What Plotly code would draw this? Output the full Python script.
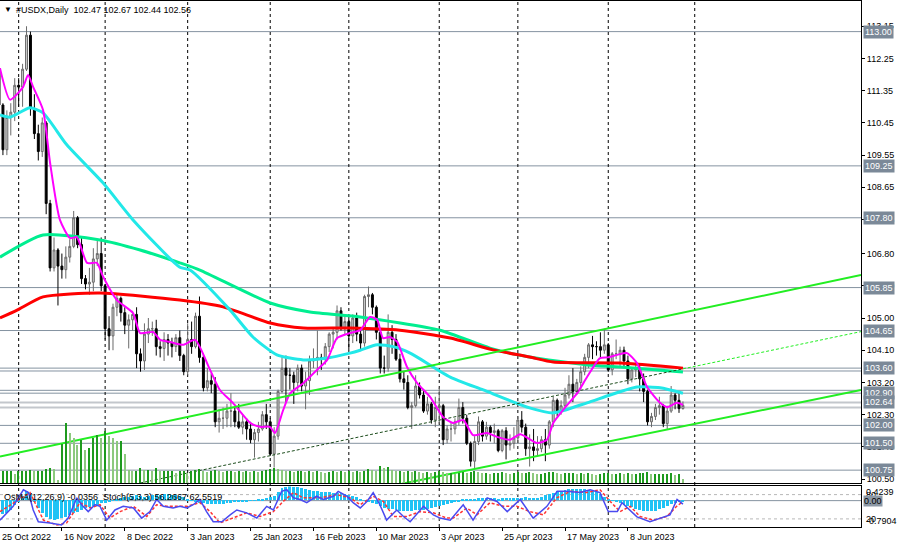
import plotly.graph_objects as go

# daily bars, index 0 = 25 Oct 2022 ... index 174 = 28 Jun 2023
opens = [
    111.98, 110.95, 109.70, 110.60, 110.75, 111.50, 111.45, 111.95, 112.90, 110.85,
    110.15, 109.65, 110.45, 108.20, 106.40, 106.90, 106.45, 106.35, 106.70, 107.00,
    107.80, 107.05, 106.10, 105.95, 106.00, 106.65, 106.80, 105.90, 104.70, 104.50,
    105.30, 105.55, 105.15, 104.80, 104.95, 105.10, 104.00, 103.80, 104.55, 104.70,
    104.70, 104.20, 104.15, 104.40, 104.30, 104.20, 104.45, 103.95, 103.50, 104.40,
    104.20, 105.05, 103.90, 103.05, 103.25, 103.15, 102.10, 102.20, 102.20, 102.40,
    102.40, 102.10, 101.95, 102.10, 101.90, 101.60, 101.80, 101.90, 102.30, 102.10,
    101.20, 101.70, 102.95, 103.60, 103.40, 103.40, 103.20, 103.60, 103.10, 103.25,
    103.80, 103.85, 103.90, 103.85, 104.20, 104.55, 104.60, 105.20, 104.70, 104.90,
    104.50, 105.00, 104.55, 104.30, 105.60, 105.65, 105.30, 104.60, 103.60, 103.60,
    104.60, 104.40, 103.85, 103.30, 103.20, 102.50, 102.55, 103.10, 102.85, 102.40,
    102.60, 102.15, 102.50, 102.55, 101.60, 101.90, 101.90, 102.10, 102.50, 102.20,
    101.50, 101.00, 101.55, 102.10, 101.70, 101.95, 101.80, 101.85, 101.30, 101.85,
    101.45, 101.50, 101.65, 102.15, 101.95, 101.35, 101.40, 101.30, 101.35, 101.60,
    101.45, 102.10, 102.70, 102.40, 102.55, 102.85, 103.15, 102.95, 103.20, 103.50,
    103.90, 104.25, 104.20, 104.20, 104.10, 104.25, 103.55, 104.00, 104.00, 104.10,
    103.80, 103.30, 103.55, 103.60, 103.30, 102.95, 102.10, 102.25, 102.50, 102.55,
    102.05, 102.40, 102.85, 102.70, 102.47,
]
highs = [
    112.10, 111.00, 110.80, 111.00, 111.70, 111.70, 112.10, 113.15, 113.00, 111.25,
    110.40, 110.60, 110.50, 108.30, 107.25, 106.95, 106.80, 107.00, 107.20, 107.99,
    107.85, 107.25, 106.20, 106.40, 106.95, 107.15, 107.25, 105.95, 105.05, 105.40,
    105.65, 105.60, 105.30, 105.10, 105.20, 105.30, 104.15, 104.85, 105.00, 104.90,
    104.95, 104.35, 104.60, 104.55, 104.45, 104.55, 104.65, 104.00, 104.85, 104.90,
    105.15, 105.60, 104.00, 103.60, 103.45, 103.35, 102.45, 102.50, 102.60, 102.90,
    102.50, 102.60, 102.30, 102.20, 102.10, 101.90, 102.10, 102.40, 102.60, 102.20,
    101.95, 103.00, 103.95, 103.95, 103.60, 103.50, 103.70, 103.70, 103.50, 103.95,
    104.15, 104.65, 104.00, 104.30, 104.60, 104.75, 105.35, 105.30, 105.05, 105.05,
    105.10, 105.15, 104.70, 105.65, 105.88, 105.70, 105.35, 104.70, 103.95, 105.10,
    104.80, 104.55, 104.00, 103.50, 103.40, 102.65, 103.40, 103.20, 103.00, 102.80,
    102.65, 102.80, 103.05, 102.60, 102.00, 102.10, 102.20, 102.75, 102.65, 102.30,
    101.55, 101.70, 102.25, 102.15, 102.10, 102.00, 102.05, 101.90, 101.90, 101.95,
    101.75, 101.95, 102.25, 102.40, 102.05, 101.75, 101.90, 101.70, 101.70, 101.90,
    102.15, 102.80, 102.75, 102.70, 103.05, 103.40, 103.60, 103.30, 103.65, 104.00,
    104.30, 104.50, 104.35, 104.60, 104.70, 104.30, 104.05, 104.40, 104.20, 104.20,
    103.95, 103.60, 103.80, 103.70, 103.45, 103.00, 102.35, 102.60, 102.80, 102.60,
    102.55, 103.10, 102.90, 102.95, 102.67,
]
lows = [
    110.80, 109.55, 109.55, 110.10, 110.50, 110.90, 110.90, 111.90, 110.65, 110.00,
    109.40, 109.50, 107.90, 106.30, 106.30, 105.35, 106.10, 106.10, 106.55, 106.95,
    106.95, 105.95, 105.80, 105.65, 105.75, 106.45, 105.75, 104.40, 104.10, 104.10,
    105.05, 104.90, 104.55, 104.15, 104.65, 103.60, 103.50, 103.55, 104.30, 104.50,
    103.95, 103.90, 103.80, 103.95, 103.90, 104.05, 103.80, 103.40, 103.40, 104.00,
    104.15, 103.75, 102.95, 102.95, 102.90, 101.95, 101.80, 101.90, 101.95, 101.95,
    101.95, 101.90, 101.75, 101.60, 101.50, 101.10, 101.55, 101.85, 101.90, 101.15,
    100.82, 101.60, 102.90, 102.65, 103.00, 102.60, 102.95, 102.95, 102.45, 102.85,
    103.60, 103.40, 103.55, 103.70, 104.05, 104.15, 104.40, 104.65, 104.55, 104.10,
    104.30, 104.35, 104.10, 104.20, 105.30, 105.10, 104.40, 103.45, 103.45, 103.50,
    104.00, 103.80, 103.20, 103.00, 102.45, 101.90, 102.50, 102.75, 102.35, 102.30,
    102.05, 101.95, 102.05, 101.45, 101.50, 101.55, 101.75, 102.00, 102.05, 101.45,
    100.85, 100.79, 101.45, 101.55, 101.60, 101.55, 101.50, 101.25, 101.25, 101.05,
    101.30, 101.35, 101.50, 101.80, 101.15, 100.85, 101.00, 101.15, 101.25, 101.00,
    101.35, 101.95, 102.25, 102.30, 102.40, 102.75, 102.65, 102.85, 103.00, 103.40,
    103.60, 103.85, 103.95, 103.90, 104.00, 103.50, 103.40, 103.85, 103.65, 103.60,
    103.15, 103.20, 103.35, 102.95, 102.65, 102.00, 101.95, 102.15, 102.30, 101.95,
    101.90, 102.35, 102.45, 102.35, 102.44,
]
closes = [
    110.95, 109.70, 110.60, 110.75, 111.50, 111.45, 111.95, 112.90, 110.85, 110.15,
    109.65, 110.45, 108.20, 106.40, 106.90, 106.45, 106.35, 106.70, 107.00, 107.80,
    107.05, 106.10, 105.95, 106.00, 106.65, 106.80, 105.90, 104.70, 104.50, 105.30,
    105.55, 105.15, 104.80, 104.95, 105.10, 104.00, 103.80, 104.55, 104.70, 104.70,
    104.20, 104.15, 104.40, 104.30, 104.20, 104.45, 103.95, 103.50, 104.40, 104.20,
    105.05, 103.90, 103.05, 103.25, 103.15, 102.10, 102.20, 102.20, 102.40, 102.40,
    102.10, 101.95, 102.10, 101.90, 101.60, 101.80, 101.90, 102.30, 102.10, 101.20,
    101.70, 102.95, 103.60, 103.40, 103.40, 103.20, 103.60, 103.10, 103.25, 103.80,
    103.85, 103.90, 103.85, 104.20, 104.55, 104.60, 105.20, 104.70, 104.90, 104.50,
    105.00, 104.55, 104.30, 105.60, 105.65, 105.30, 104.60, 103.60, 103.60, 104.60,
    104.40, 103.85, 103.30, 103.20, 102.50, 102.55, 103.10, 102.85, 102.40, 102.60,
    102.15, 102.50, 102.55, 101.60, 101.90, 101.90, 102.10, 102.50, 102.20, 101.50,
    101.00, 101.55, 102.10, 101.70, 101.95, 101.80, 101.85, 101.30, 101.85, 101.45,
    101.50, 101.65, 102.15, 101.95, 101.35, 101.40, 101.30, 101.35, 101.60, 101.45,
    102.10, 102.70, 102.40, 102.55, 102.85, 103.15, 102.95, 103.20, 103.50, 103.90,
    104.25, 104.20, 104.20, 104.10, 104.25, 103.55, 104.00, 104.00, 104.10, 103.80,
    103.30, 103.55, 103.60, 103.30, 102.95, 102.10, 102.25, 102.50, 102.55, 102.05,
    102.40, 102.85, 102.70, 102.47, 102.56,
]
volumes = [
    12, 12, 12, 12, 9, 12, 12, 12, 13, 12, 12, 12, 14, 15, 14, 3,
    39, 60, 50, 45, 38, 43, 33, 35, 45, 48, 45, 52, 47, 45, 42, 42, 29,
    13, 12, 12, 15, 13, 13, 12, 15, 12, 12, 12, 12, 10, 12, 12, 10, 12,
    13, 14, 12, 11, 12, 13, 12, 11, 12, 12, 11, 12, 11, 12, 11, 12, 11, 12, 13, 14,
    15, 14, 13, 12, 12, 11, 12, 12, 11, 12, 11, 12, 11, 10, 11, 12, 11, 12, 11, 12,
    11, 12, 11, 12, 14, 13, 12, 17, 15, 16, 13, 12, 12, 11, 12, 11, 12, 11, 10, 11,
    10, 11, 12, 11, 10, 10, 9, 10, 11, 10, 11, 12, 11, 10, 10, 9, 10, 10, 11, 10,
    9, 10, 11, 10, 10, 11, 10, 9, 9, 10, 11, 11, 10, 9, 10, 10, 10, 9, 10, 9,
    10, 9, 8, 9, 10, 10, 9, 9, 10, 9, 10, 9, 9, 10, 10, 11, 9, 9, 9, 9,
    9, 10, 8, 9, 4,
]
osma = [
    -0.40, -0.42, -0.38, -0.30, -0.15, -0.03, 0.12, 0.28, 0.20, -0.05,
    -0.25, -0.40, -0.50, -0.58, -0.60, -0.58, -0.55, -0.52, -0.45, -0.40,
    -0.35, -0.30, -0.25, -0.22, -0.18, -0.14, -0.10, -0.08, -0.05, -0.02,
    0.02, 0.05, 0.08, 0.10, 0.12, 0.14, 0.12, 0.10, 0.12, 0.14,
    0.15, 0.16, 0.17, 0.18, 0.16, 0.14, 0.12, 0.08, 0.03, -0.02,
    -0.05, -0.08, -0.10, -0.12, -0.13, -0.13, -0.12, -0.11, -0.10, -0.08,
    -0.07, -0.05, -0.04, -0.03, -0.02, -0.01, 0.02, 0.04, 0.06, 0.08,
    0.12, 0.25, 0.35, 0.40, 0.42, 0.40, 0.38, 0.35, 0.32, 0.30,
    0.28, 0.27, 0.25, 0.24, 0.23, 0.22, 0.22, 0.20, 0.18, 0.15,
    0.12, 0.08, 0.02, -0.02, -0.05, -0.08, -0.12, -0.18, -0.24, -0.26,
    -0.28, -0.30, -0.32, -0.34, -0.33, -0.32, -0.31, -0.30, -0.29, -0.27,
    -0.25, -0.22, -0.19, -0.16, -0.13, -0.10, -0.06, -0.03, 0.01, 0.02,
    0.02, 0.03, 0.05, 0.05, 0.06, 0.06, 0.05, 0.04, 0.05, 0.06,
    0.05, 0.05, 0.06, 0.07, 0.08, 0.07, 0.06, 0.07, 0.10, 0.14,
    0.18, 0.22, 0.26, 0.28, 0.30, 0.32, 0.33, 0.32, 0.33, 0.32,
    0.30, 0.28, 0.24, 0.18, 0.10, 0.04, -0.02, -0.06, -0.10, -0.14,
    -0.18, -0.22, -0.26, -0.30, -0.32, -0.33, -0.33, -0.32, -0.28, -0.24,
    -0.18, -0.12, -0.08, -0.05, -0.04,
]

# moving averages (bar index, price)
ma_fast_x = [0.25, 2.8, 6.1, 7.4, 8.7, 11.2, 13, 15.5, 18.1, 19.8, 22.4, 24.9, 26.5, 30, 34.1,
             35.9, 39.2, 41, 43.5, 46.8, 49.9, 53.7, 56.2, 59.5, 63.9, 66.4, 68.9, 70.2, 72.3,
             74.1, 77.4, 80.9, 83.5, 86, 89.3, 91.9, 94.4, 96.2, 97.7, 99.5, 101.3, 103.8, 106.4,
             109.7, 113, 115.5, 118.1, 120.6, 124.2, 126.7, 130, 132.6, 136.9, 139.4, 141, 143.5,
             147.1, 149.6, 152.9, 154.9, 157.3, 159.8, 162.3, 164.9, 168.2, 170, 172.5, 174]
ma_fast_y = [111.98, 111.10, 111.45, 111.79, 111.45, 110.81, 109.33, 107.74, 107.23, 107.26,
             106.54, 106.54, 106.15, 105.50, 105.14, 104.58, 104.61, 104.39, 104.33, 104.25,
             104.39, 103.55, 102.99, 102.63, 102.07, 101.96, 101.96, 101.79, 102.43, 102.90,
             103.18, 103.55, 103.83, 104.44, 104.58, 104.66, 105.03, 104.95, 104.44, 104.47,
             104.33, 103.63, 103.18, 102.79, 102.23, 102.07, 102.15, 101.73, 101.79, 101.68,
             101.60, 101.75, 101.51, 101.60, 102.07, 102.43, 102.90, 103.35, 103.88, 103.90,
             103.97, 104.02, 103.74, 103.07, 102.63, 102.51, 102.63, 102.57]
ma_mid_x = [0.25, 2.8, 7.9, 11.2, 17.3, 26.5, 34.1, 46, 48.6, 58.8, 64.6, 70.7, 77.4, 83.5,
            89.3, 91.9, 96.2, 100.3, 104.6, 114.8, 123.2, 135, 141, 149.6, 155.5, 162.3,
            168.2, 174]
ma_mid_y = [110.67, 110.61, 110.87, 110.73, 109.83, 108.77, 107.74, 106.42, 106.34, 105.22,
            104.47, 103.97, 103.83, 103.88, 104.02, 104.10, 104.25, 104.20, 104.02, 103.35,
            102.99, 102.49, 102.35, 102.63, 102.85, 103.07, 103.05, 102.90]
ma_slow_x = [0.25, 11.2, 25.7, 35.9, 46, 51.1, 69, 79.1, 91.9, 112.2, 124.9, 135, 149.6,
             158, 174]
ma_slow_y = [106.70, 107.32, 107.18, 106.90, 106.54, 106.34, 105.42, 105.17, 105.03, 104.66,
             104.16, 103.91, 103.69, 103.63, 103.49]
ma_long_x = [0.25, 4.6, 11.2, 25.7, 46, 57, 69, 77.4, 89.3, 102, 114.8, 125.7, 135, 141,
             158, 174]
ma_long_y = [105.00, 105.22, 105.59, 105.70, 105.50, 105.31, 104.86, 104.72, 104.72, 104.66,
             104.44, 104.11, 103.91, 103.77, 103.74, 103.60]

# stochastic (5,3,3), main and signal
stoch_x = [0.25, 3.6, 6.2, 7.5, 8.7, 10, 13, 15.9, 17.6, 19.8, 21, 22.7, 24.4, 25.7, 27.4,
           29.5, 31.6, 34.2, 36.3, 38.4, 40.1, 41.8, 44.3, 46, 47.8, 49.4, 51.1, 52.8, 54.5,
           56.7, 58.8, 60.5, 63, 65.6, 68.1, 69.8, 71.9, 73.2, 74.9, 76.6, 78.3, 80.8, 82.5,
           85.1, 86.3, 88.5, 90.1, 91.9, 93.6, 95.2, 96.9, 98.6, 101.2, 102.9, 104.6, 108,
           110.5, 112.2, 114.8, 118.1, 120.6, 124.2, 126.7, 129.3, 132.6, 135.9, 139.4, 142,
           144.5, 147.8, 150.4, 152.9, 155, 157.3, 158.5, 160, 162.3, 165.6, 168.2, 170.7,
           172.5, 174]
stoch_y = [17, 51, 92, 85, 42, 13, 10, 5, 22, 72, 55, 38, 55, 51, 17, 42, 51, 47, 22, 38,
           68, 51, 47, 51, 47, 55, 68, 38, 13, 13, 30, 42, 35, 22, 51, 42, 88, 92, 72, 68,
           60, 76, 68, 76, 88, 76, 60, 47, 63, 85, 55, 17, 42, 26, 13, 51, 30, 22, 17, 55,
           17, 72, 63, 38, 68, 22, 51, 88, 88, 85, 92, 85, 38, 38, 60, 47, 25, 13, 22, 30,
           68, 56.27]
signal_x = [0.25, 5.3, 7.9, 9.6, 11.3, 14.7, 17.2, 20.6, 23.2, 25.7, 28.2, 30.8, 34.2, 37.6,
            40.1, 42.7, 47.8, 51.1, 53.7, 56.2, 59.6, 63, 66.4, 69.8, 72.3, 74.9, 77.4, 81.7,
            85.9, 89.3, 91.9, 95.2, 97.8, 100.3, 103.7, 107.1, 110.5, 113.9, 115.6, 119, 121.6,
            124.9, 128.3, 131.7, 135.1, 138.5, 141.9, 145.3, 149.5, 152.9, 155.5, 158, 160.6,
            163.1, 166.5, 169.9, 172.4, 174]
signal_y = [38, 68, 85, 51, 17, 5, 10, 60, 47, 55, 22, 38, 51, 26, 55, 51, 51, 60, 38, 10,
            22, 35, 26, 38, 63, 85, 72, 72, 80, 72, 55, 76, 63, 26, 26, 38, 35, 22, 22, 47,
            30, 60, 51, 51, 38, 30, 72, 88, 85, 92, 63, 38, 51, 26, 17, 26, 51, 62.55]

# drawn objects
levels = [113.00, 109.25, 107.80, 105.85, 104.65, 103.60, 103.52, 102.98, 102.90, 102.00,
          101.50, 100.75]
price_lines = [102.64, 102.50]
level_labels = [113.00, 109.25, 107.80, 105.85, 104.65, 103.60, 102.90, 102.64, 102.00,
                101.50, 100.75]
channel_top_x = [0.25, 219.3]
channel_top_y = [101.13, 106.20]
channel_low_x = [102.5, 219.3]
channel_low_y = [100.37, 102.99]
channel_mid_x = [35.9, 174, 219.3]
channel_mid_y = [100.39, 103.58, 104.62]

price_ticks = [100.50, 101.40, 102.30, 103.20, 104.10, 105.00, 105.90, 106.80, 107.75,
               108.65, 109.55, 110.45, 111.35, 112.25, 113.15]
date_label_bars = [0, 16, 32, 48, 64, 80, 96, 112, 128, 144, 160]
date_labels = ["25 Oct 2022", "16 Nov 2022", "8 Dec 2022", "3 Jan 2023", "25 Jan 2023",
               "16 Feb 2023", "10 Mar 2023", "3 Apr 2023", "25 Apr 2023", "17 May 2023",
               "8 Jun 2023"]
month_start_bars = [5, 27, 48, 69, 89, 112, 132, 155, 177]

FONT = "Liberation Sans"
X_RANGE = [0.254, 219.3]
bars = list(range(len(closes)))

fig = go.Figure()

vol_colors = ["#1e9a1e" if i == 0 or v >= volumes[i - 1] else "#8cc97e"
              for i, v in enumerate(volumes)]
fig.add_trace(go.Bar(x=bars, y=volumes, width=0.35, marker_color=vol_colors,
                     marker_line_width=0, yaxis="y3"))

fig.add_trace(go.Candlestick(
    x=bars, open=opens, high=highs, low=lows, close=closes,
    increasing=dict(line=dict(color="#6a6a6a", width=1), fillcolor="#cfcfcf"),
    decreasing=dict(line=dict(color="#000000", width=1), fillcolor="#000000"),
    whiskerwidth=0,
))

for xs, ys, color, width in [
    (ma_slow_x, ma_slow_y, "#00ee90", 3),
    (ma_long_x, ma_long_y, "#ff0000", 3),
    (ma_mid_x, ma_mid_y, "#22e8e8", 3),
    (ma_fast_x, ma_fast_y, "#ff00ff", 2),
]:
    fig.add_trace(go.Scatter(x=xs, y=ys, mode="lines",
                             line=dict(color=color, width=width, shape="spline", smoothing=0.6)))

fig.add_trace(go.Scatter(x=channel_top_x, y=channel_top_y, mode="lines",
                         line=dict(color="#22ee22", width=2)))
fig.add_trace(go.Scatter(x=channel_low_x, y=channel_low_y, mode="lines",
                         line=dict(color="#22ee22", width=2)))
fig.add_trace(go.Scatter(x=channel_mid_x[:2], y=channel_mid_y[:2], mode="lines",
                         line=dict(color="#1d4d1d", width=1, dash="3px,2px")))
fig.add_trace(go.Scatter(x=channel_mid_x[1:], y=channel_mid_y[1:], mode="lines",
                         line=dict(color="#22ee22", width=1, dash="3px,2px")))

# oscillator window
fig.add_trace(go.Bar(x=bars, y=osma, width=0.75, marker_color="#1fc3f5",
                     marker_line_width=0, xaxis="x2", yaxis="y2"))
fig.add_trace(go.Scatter(x=signal_x, y=signal_y, mode="lines", xaxis="x2", yaxis="y4",
                         line=dict(color="#ff3333", width=1.5, dash="3px,2px")))
fig.add_trace(go.Scatter(x=stoch_x, y=stoch_y, mode="lines", xaxis="x2", yaxis="y4",
                         line=dict(color="#4a4af0", width=1.5)))

shapes = []
for lv in levels:
    shapes.append(dict(type="line", xref="paper", x0=0, x1=1, yref="y", y0=lv, y1=lv,
                       line=dict(color="#8593a1", width=1), layer="below"))
for lv in price_lines:
    shapes.append(dict(type="line", xref="paper", x0=0, x1=1, yref="y", y0=lv, y1=lv,
                       line=dict(color="#c3c7cc", width=2), layer="below"))
for b in month_start_bars:
    shapes.append(dict(type="line", xref="x", x0=b, x1=b, yref="paper", y0=0, y1=1,
                       line=dict(color="#000000", width=1, dash="3px,3px"), layer="below"))
for lv in (80, 20):
    shapes.append(dict(type="line", xref="paper", x0=0, x1=1, yref="y4", y0=lv, y1=lv,
                       line=dict(color="#b8b8b8", width=1, dash="3px,3px"), layer="below"))
shapes.append(dict(type="line", xref="paper", x0=0, x1=1, yref="y2", y0=0, y1=0,
                   line=dict(color="#8593a1", width=1), layer="below"))

annotations = [
    dict(text="\u25bc", xref="paper", yref="paper", x=0, y=1, xanchor="left", yanchor="top",
         xshift=2, yshift=-2, showarrow=False, font=dict(family=FONT, size=8, color="#000")),
    dict(text="#USDX,Daily  102.47 102.67 102.44 102.56", xref="paper", yref="paper",
         x=0, y=1, xanchor="left", yanchor="top", xshift=14, yshift=-2, showarrow=False,
         font=dict(family=FONT, size=9, color="#000")),
    dict(text="OsMA(12,26,9) -0.0356  Stoch(5,3,3) 56.2667 62.5519", xref="paper", yref="y4",
         x=0, y=92, xanchor="left", yanchor="top", xshift=2, showarrow=False,
         font=dict(family=FONT, size=9, color="#000")),
]
for lv in level_labels:
    annotations.append(dict(text=f"{lv:.2f}", xref="paper", yref="y", x=1, y=lv,
                            xanchor="left", yanchor="middle", xshift=2, showarrow=False,
                            bgcolor="#7b8998", borderpad=1,
                            font=dict(family=FONT, size=9, color="#ffffff")))
for txt, yv in [("0.4239", 87), ("80", 80), ("20", 20), ("-0.7904", 16)]:
    annotations.append(dict(text=txt, xref="paper", yref="y4", x=1, y=yv, xanchor="left",
                            yanchor="middle", xshift=3, showarrow=False,
                            font=dict(family=FONT, size=9, color="#000")))
annotations.append(dict(text="0.00", xref="paper", yref="y2", x=1, y=0, xanchor="left",
                        yanchor="middle", xshift=2, showarrow=False, bgcolor="#8c98a5",
                        borderpad=0, font=dict(family=FONT, size=9, color="#000")))
for b, txt in zip(date_label_bars, date_labels):
    # keep the anchor inside the axis range so the first label is not hidden
    annotations.append(dict(text=txt, xref="x", yref="paper", x=max(b, X_RANGE[0] + 0.01),
                            y=0, xanchor="left", yanchor="top", yshift=-3, showarrow=False,
                            font=dict(family=FONT, size=9, color="#000")))

axis_common = dict(showgrid=False, zeroline=False, showline=True, mirror=True,
                   linecolor="#000000", linewidth=1)
fig.update_layout(
    width=900, height=547,
    margin=dict(l=0, r=39, t=1, b=20),
    paper_bgcolor="white", plot_bgcolor="white",
    showlegend=False,
    bargap=0,
    font=dict(family=FONT, size=9, color="#000"),
    xaxis=dict(domain=[0, 1], range=X_RANGE, anchor="y", showticklabels=False,
               rangeslider=dict(visible=False), **axis_common),
    yaxis=dict(domain=[0.0831, 1], range=[100.383, 113.855], side="right",
               tickvals=price_ticks, ticktext=[f"{t:.2f}" for t in price_ticks],
               ticks="outside", ticklen=3, tickcolor="#000",
               tickfont=dict(family=FONT, size=9), **axis_common),
    yaxis3=dict(overlaying="y", range=[0, 482.3], visible=False),
    xaxis2=dict(domain=[0, 1], range=X_RANGE, anchor="y2", matches="x",
                tickvals=date_label_bars, ticks="outside", ticklen=3, tickcolor="#000",
                showticklabels=False, **axis_common),
    yaxis2=dict(domain=[0, 0.077], range=[-0.7904, 0.4239], side="right",
                showticklabels=False, **axis_common),
    yaxis4=dict(overlaying="y2", range=[0, 100], visible=False),
    shapes=shapes,
    annotations=annotations,
)

# the page's default 8px body margin would shift the chart inside the window
fig.write_html("out.html", config={"displayModeBar": False},
               post_script="document.body.style.margin='0px';")
